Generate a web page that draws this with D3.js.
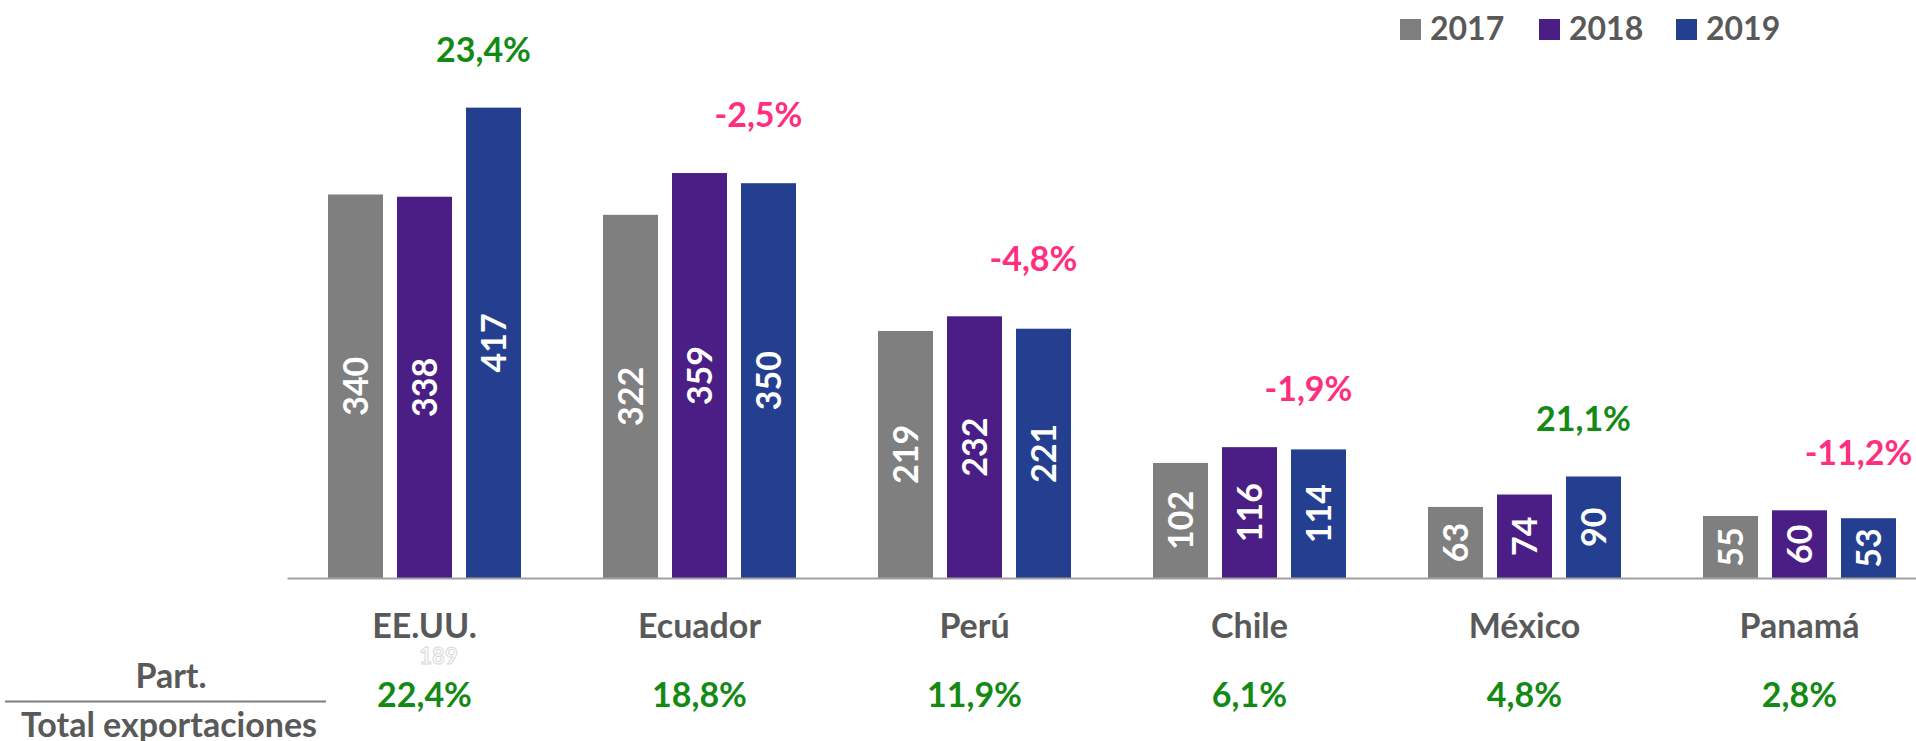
<!DOCTYPE html>
<html>
<head>
<meta charset="utf-8">
<script src="https://cdn.jsdelivr.net/npm/d3@7"></script>
<style>
  body { margin: 0; background: #fff; }
  svg { display: block; font-family: Lato, "Open Sans", sans-serif; font-weight: 700; }
</style>
</head>
<body>
<div id="chart"></div>
<script>
// data
const countries = ["EE.UU.", "Ecuador", "Perú", "Chile", "México", "Panamá"];
const years = ["2017", "2018", "2019"];
const v2017 = [340, 322, 219, 102, 63, 55];
const v2018 = [338, 359, 232, 116, 74, 60];
const v2019 = [417, 350, 221, 114, 90, 53];
const growth = ["23,4%", "-2,5%", "-4,8%", "-1,9%", "21,1%", "-11,2%"];
const share = ["22,4%", "18,8%", "11,9%", "6,1%", "4,8%", "2,8%"];
const colors = ["#7f7f7f", "#4b1e86", "#243f8f"];

const W = 1916, H = 741;
const margin = { top: 14, left: 287, baseline: 578 };
const width = 1650;
const fs = "34px";

const series = [v2017, v2018, v2019];
const data = countries.map((c, i) => ({
  country: c,
  values: years.map((y, j) => ({ year: y, value: series[j][i] })),
  growth: growth[i],
  share: share[i]
}));

const svg = d3.select("#chart").append("svg")
  .attr("width", W)
  .attr("height", H);

const x0 = d3.scaleBand().domain(countries)
  .range([margin.left, margin.left + width])
  .paddingInner(82 / 275).paddingOuter(41 / 275);
const x1 = d3.scaleBand().domain(years)
  .range([0, x0.bandwidth()])
  .paddingInner(14 / 69);
const y = d3.scaleLinear().domain([0, 500]).range([margin.baseline, margin.top]);
const color = d3.scaleOrdinal().domain(years).range(colors);

// bars
const groups = svg.selectAll("g.grp")
  .data(data)
  .enter().append("g")
  .attr("class", "grp")
  .attr("transform", d => `translate(${x0(d.country)},0)`);

groups.selectAll("rect")
  .data(d => d.values)
  .enter().append("rect")
  .attr("x", d => x1(d.year))
  .attr("y", d => y(d.value))
  .attr("width", x1.bandwidth())
  .attr("height", d => y(0) - y(d.value))
  .attr("fill", d => color(d.year));

// value labels, rotated, centred in the bar
groups.selectAll("text.val")
  .data(d => d.values)
  .enter().append("text")
  .attr("class", "val")
  .attr("transform", d => `translate(${x1(d.year) + x1.bandwidth() / 2},${(y(d.value) + y(0)) / 2}) rotate(-90)`)
  .attr("text-anchor", "middle")
  .attr("dy", "0.36em")
  .attr("fill", "#fff")
  .style("font-size", fs)
  .text(d => d.value);

// growth labels above each group
groups.append("text")
  .attr("x", x1("2019") + x1.bandwidth() / 2 - 10)
  .attr("y", d => y(d3.max(d.values, v => v.value)) - 58)
  .attr("dy", "0.36em")
  .attr("text-anchor", "middle")
  .attr("fill", d => d.growth.startsWith("-") ? "#ff2e7e" : "#138a13")
  .style("font-size", fs)
  .text(d => d.growth);

// x axis
const xAxis = svg.append("g")
  .attr("transform", `translate(0,${margin.baseline})`)
  .call(d3.axisBottom(x0).tickSize(0).tickSizeOuter(0).tickPadding(36));
xAxis.select(".domain").attr("stroke", "#a0a0a0").attr("stroke-width", 2);
xAxis.selectAll("text")
  .attr("fill", "#595959")
  .style("font-family", "Lato, 'Open Sans', sans-serif")
  .style("font-weight", 700)
  .style("font-size", fs);

// faint hidden label under EE.UU.
svg.append("text")
  .attr("x", x0("EE.UU.") + 14 + x0.bandwidth() / 2)
  .attr("y", 664)
  .attr("text-anchor", "middle")
  .attr("fill", "#fff")
  .attr("stroke", "#d8d8d8")
  .attr("stroke-width", 1)
  .style("font-size", "22px")
  .text("189");

// share of total exports row
svg.selectAll("text.share")
  .data(data)
  .enter().append("text")
  .attr("class", "share")
  .attr("x", d => x0(d.country) + x0.bandwidth() / 2)
  .attr("y", 695)
  .attr("dy", "0.36em")
  .attr("text-anchor", "middle")
  .attr("fill", "#138a13")
  .style("font-size", fs)
  .text(d => d.share);

svg.append("text")
  .attr("x", 171).attr("y", 676).attr("dy", "0.36em")
  .attr("text-anchor", "middle")
  .attr("fill", "#595959")
  .style("font-size", fs)
  .text("Part.");
svg.append("line")
  .attr("x1", 5).attr("x2", 326)
  .attr("y1", 701.5).attr("y2", 701.5)
  .attr("stroke", "#7f7f7f").attr("stroke-width", 2);
svg.append("text")
  .attr("x", 169).attr("y", 725).attr("dy", "0.36em")
  .attr("text-anchor", "middle")
  .attr("fill", "#595959")
  .style("font-size", fs)
  .text("Total exportaciones");

// legend
const legendX = [1400, 1539, 1676];
const legend = svg.selectAll("g.leg")
  .data(years)
  .enter().append("g")
  .attr("class", "leg")
  .attr("transform", (d, i) => `translate(${legendX[i]},19)`);
legend.append("rect")
  .attr("width", 21).attr("height", 21)
  .attr("fill", d => color(d));
legend.append("text")
  .attr("x", 30).attr("y", 21)
  .attr("fill", "#595959")
  .style("font-size", "32px")
  .text(d => d);
</script>
</body>
</html>
